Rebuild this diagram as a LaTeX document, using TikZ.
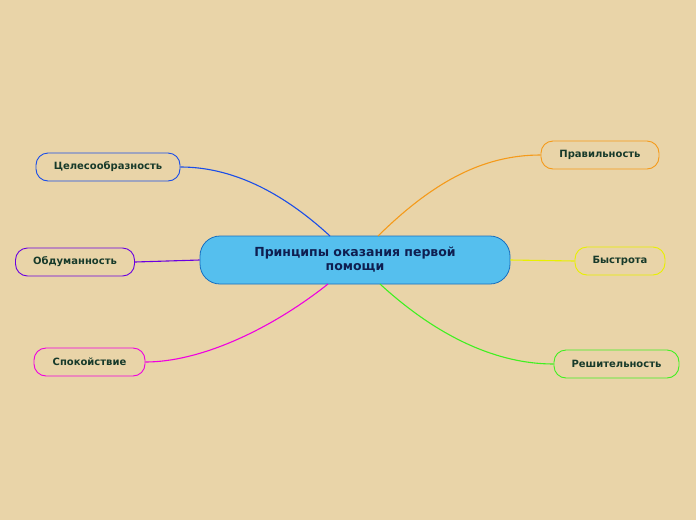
\documentclass[tikz,border=0pt]{standalone}
\usepackage{fontspec}
\setmainfont{DejaVu Sans}
\begin{document}
\begin{tikzpicture}[x=1pt,y=-1pt]
\definecolor{bg}{HTML}{E9D4A8}
\definecolor{txt}{HTML}{173A2A}
\tikzset{leaf/.style={draw,line width=0.9pt,rounded corners=12pt,fill=bg,minimum height=28pt,inner xsep=8pt,font=\bfseries\fontsize{10}{12}\selectfont,text=txt},
 conn/.style={line width=1.1pt}}
\fill[bg] (0,0) rectangle (696,520);
\useasboundingbox (0,0) rectangle (696,520);
\node[draw=cyan!50!blue,line width=0.8pt,fill={rgb,255:red,85;green,191;blue,238},rounded corners=20pt,minimum width=310pt,minimum height=48pt,align=center,font=\bfseries\fontsize{12.5}{14}\selectfont,text={rgb,255:red,15;green,30;blue,80}] (c) at (355,260) {Принципы оказания первой\\помощи};
\node[leaf,draw={rgb,255:red,26;green,77;blue,232},minimum width=144pt] (a) at (108,167) {Целесообразность};
\node[leaf,draw={rgb,255:red,106;green,0;blue,224},minimum width=119pt] (b) at (75,262) {Обдуманность};
\node[leaf,draw={rgb,255:red,240;green,0;blue,224},minimum width=111pt] (d) at (89.5,362) {Спокойствие};
\node[leaf,draw={rgb,255:red,245;green,154;blue,26},minimum width=118pt] (e) at (600,155) {Правильность};
\node[leaf,draw={rgb,255:red,232;green,240;blue,0},minimum width=90pt] (f) at (620,261) {Быстрота};
\node[leaf,draw={rgb,255:red,64;green,240;blue,32},minimum width=125pt] (g) at (616.5,364) {Решительность};
\draw[conn,draw={rgb,255:red,26;green,77;blue,232}] (330,236) .. controls (280,190) and (230,167) .. (a.east);
\draw[conn,draw={rgb,255:red,106;green,0;blue,224}] (c.west) -- (b.east);
\draw[conn,draw={rgb,255:red,240;green,0;blue,224}] (328,284) .. controls (270,330) and (200,362) .. (d.east);
\draw[conn,draw={rgb,255:red,245;green,154;blue,26}] (378,236) .. controls (430,185) and (480,155) .. (e.west);
\draw[conn,draw={rgb,255:red,232;green,240;blue,0}] (c.east) -- (f.west);
\draw[conn,draw={rgb,255:red,64;green,240;blue,32}] (380,284) .. controls (430,330) and (490,364) .. (g.west);
\end{tikzpicture}
\end{document}
